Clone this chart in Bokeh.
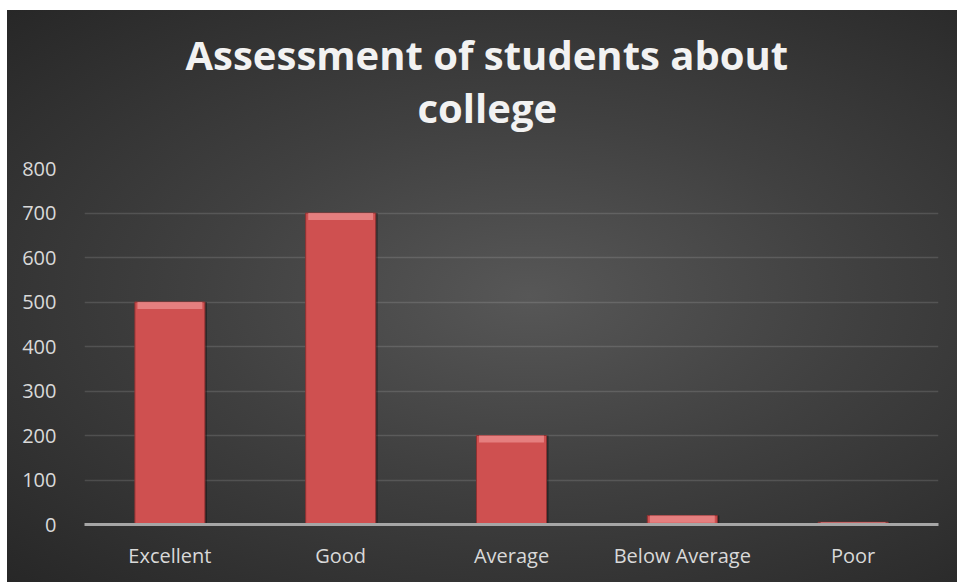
from bokeh.plotting import figure
from bokeh.models import ColumnDataSource, Range1d, Title
from bokeh.transform import dodge
from bokeh.embed import file_html
from bokeh.resources import INLINE

categories = ["Excellent", "Good", "Average", "Below Average", "Poor"]
values = [500, 700, 200, 20, 5]
y_ticks = [0, 100, 200, 300, 400, 500, 600, 700, 800]
title_lines = ["Assessment of students about", "college"]

hl = [min(v, 16) for v in values]
src = ColumnDataSource(dict(
    cat=categories,
    top=values,
    hl_bottom=[v - h for v, h in zip(values, hl)],
))

bg = ("radial-gradient(ellipse at 55% 50%, #575757 0%, #404040 45%, #272727 100%) "
      "7px 10px / 950px 572px no-repeat, #ffffff")

p = figure(
    x_range=categories, y_range=Range1d(0, 800),
    width=957, height=582,
    output_backend="svg", toolbar_location=None,
    min_border_left=84, min_border_right=19, min_border_top=168, min_border_bottom=58,
    background_fill_color=None, border_fill_color=None,
    outline_line_color=None,
    styles={"background": bg},
)
p.title = None

# line nearest the frame first, then the upper line
t2 = Title(text=title_lines[1], align="left", text_color="#f2f2f2", offset=333,
           text_font="Open Sans", text_font_style="bold", text_font_size="40px",
           standoff=66.6)
t1 = Title(text=title_lines[0], align="left", text_color="#f2f2f2", offset=101,
           text_font="Open Sans", text_font_style="bold", text_font_size="40px",
           standoff=-75.6)
p.add_layout(t2, "above")
p.add_layout(t1, "above")

# shadow
p.vbar(x=dodge("cat", 0.012, range=p.x_range), top="top", bottom=-4, width=0.41, source=src,
       fill_color="black", fill_alpha=0.35, line_color=None)
# main bar
p.vbar(x="cat", top="top", bottom=0, width=0.41, source=src,
       fill_color="#cf5050", line_color="#8e3232", line_width=1)
# bevel highlight at top
p.vbar(x="cat", top="top", bottom="hl_bottom", width=0.38, source=src,
       fill_color="#ec8f8f", fill_alpha=0.75, line_color=None)

p.yaxis.ticker = y_ticks
p.yaxis.axis_line_color = None
p.yaxis.major_tick_line_color = None
p.yaxis.minor_tick_line_color = None
p.yaxis.major_label_text_color = "#d9d9d9"
p.yaxis.major_label_text_font = "Open Sans"
p.yaxis.major_label_text_font_size = "20px"
p.yaxis.major_label_standoff = 22

p.xaxis.axis_line_color = "#a6a6a6"
p.xaxis.axis_line_width = 3
p.xaxis.major_tick_line_color = None
p.xaxis.minor_tick_line_color = None
p.xaxis.major_label_text_color = "#d9d9d9"
p.xaxis.major_label_text_font = "Open Sans"
p.xaxis.major_label_text_font_size = "20px"
p.xaxis.major_label_standoff = 11

p.xgrid.grid_line_color = None
p.ygrid.grid_line_color = "white"
p.ygrid.grid_line_alpha = 0.13
p.ygrid.grid_line_width = 1.5

open("out.html", "w").write(file_html(p, INLINE))
